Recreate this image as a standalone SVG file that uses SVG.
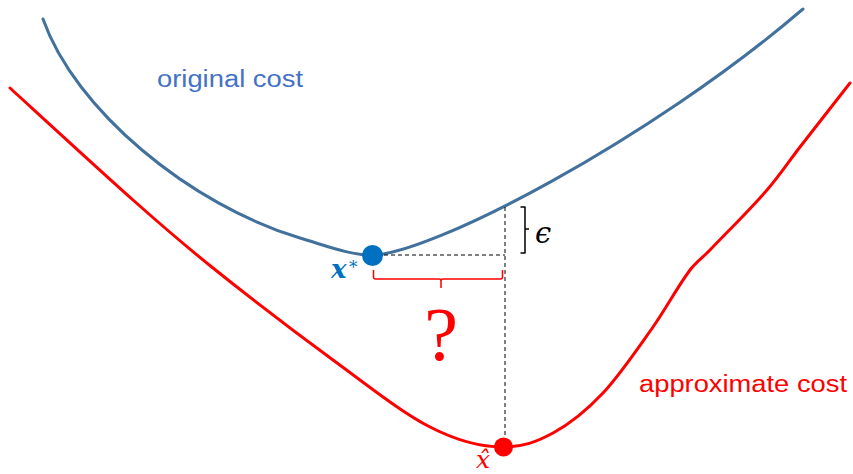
<svg xmlns="http://www.w3.org/2000/svg" width="853" height="474" viewBox="0 0 853 474">
  <style>
    .curve { fill: none; stroke-width: 3; stroke-linecap: round; stroke-linejoin: round; }
    .blue { stroke: #41719C; }
    .red { stroke: #FF0000; }
    .dash { fill: none; stroke: #000; stroke-width: 1; stroke-dasharray: 4 3; }
    .brk { fill: none; stroke-width: 1.5; stroke-linejoin: round; }
    .lbl { font-family: "Liberation Sans", Arial, sans-serif; font-size: 23px; }
    .math { font-family: "DejaVu Serif", "Liberation Serif", serif; font-style: italic; }
  </style>
  <rect width="853" height="474" fill="#fff"/>
  <g id="connectors">
    <path id="original-cost-curve" class="curve blue" d="M43,19 C75,110 190,205 300,238 C330,247 350,255 372,255 C430,255 650,140 803,9"/>
    <path id="approximate-cost-curve" class="curve red" d="M10,88 C30.5,106.7 99.2,170 133,200 C166.8,230 179.7,241.3 213,268 C246.3,294.7 296.8,333.5 333,360 C369.2,386.5 401.7,412.5 430,427 C458.3,441.5 480,447 503,447 C523,447 536.3,442 553,433 C569.7,424 586.3,410.7 603,393 C619.7,375.3 638.5,347.5 653,327 C666.1,308.5 676.5,288.3 690,270 C695.6,262.4 703.5,256.8 710,250 C729.1,230.1 748.8,210.8 767,190 C778.9,176.4 788.9,161.3 800,147 C816.6,125.6 833.3,104.3 850,83"/>
    <path id="dash-horizontal" class="dash" d="M384,255 H505"/>
    <path id="dash-vertical" class="dash" d="M505,207 V440"/>
    <path id="epsilon-bracket" class="brk" stroke="#000" d="M520.5,207 H525 V253 H520.5 M525,229 H529"/>
    <path id="gap-brace" class="brk" stroke="#FF0000" d="M373.5,270 V277 Q373.5,279 375.5,279 H439 Q441,279 441,281 V288 M441,281 Q441,279 443,279 H500.5 Q502.5,279 502.5,277 V270"/>
  </g>
  <g id="x-star">
    <circle cx="372.5" cy="255.5" r="10.5" fill="#0070C0"/>
    <text class="math" x="331" y="278" font-size="26" font-weight="bold" fill="#0070C0">x</text>
    <text class="math" x="349" y="273" font-size="17" font-style="normal" fill="#0070C0">*</text>
  </g>
  <g id="x-hat">
    <circle cx="503.5" cy="447" r="9.5" fill="#FF0000"/>
    <text class="math" x="476" y="468" font-size="25" fill="#FF0000">x&#770;</text>
  </g>
  <g id="epsilon-label">
    <text class="math" x="535" y="243" font-size="29" fill="#000">&#1013;</text>
  </g>
  <g id="question-label">
    <text x="441" y="360" font-family="Liberation Serif, 'Times New Roman', serif" font-size="76" text-anchor="middle" fill="#FF0000">?</text>
  </g>
  <g id="original-cost-label">
    <text class="lbl" x="157" y="87" fill="#4472C4" textLength="146" lengthAdjust="spacingAndGlyphs">original cost</text>
  </g>
  <g id="approximate-cost-label">
    <text class="lbl" x="639" y="392" fill="#FF0000" textLength="208" lengthAdjust="spacingAndGlyphs">approximate cost</text>
  </g>
</svg>
